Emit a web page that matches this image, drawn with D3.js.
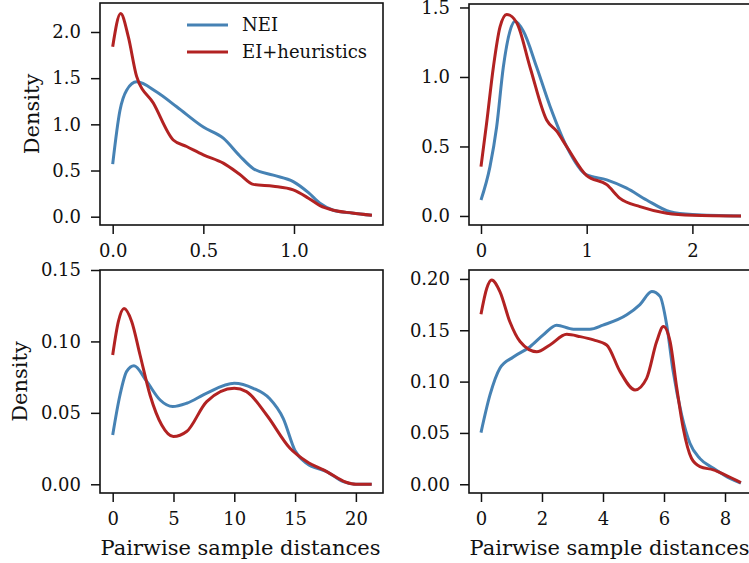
<!DOCTYPE html>
<html>
<head>
<meta charset="utf-8">
<script src="https://cdn.jsdelivr.net/npm/d3@7"></script>
<style>
  body { margin: 0; background: #fff; }
  svg { display: block; font-family: "DejaVu Serif", serif; }
  .tick text { font-family: "DejaVu Serif", serif; font-size: 18px; fill: #111; }
  .tick line { stroke: #111; stroke-width: 1.5; }
</style>
</head>
<body>
<svg width="749" height="563"></svg>
<script>
// series, as [distance, density] pairs
var neiTopLeft = [[0,0.57],[0.04,1.15],[0.077,1.37],[0.132,1.46],[0.243,1.35],[0.353,1.19],[0.5,0.97],[0.61,0.85],[0.7,0.66],[0.776,0.52],[0.886,0.45],[0.996,0.38],[1.08,0.26],[1.143,0.145],[1.217,0.07],[1.32,0.04],[1.43,0.015]];
var eiTopLeft = [[0,1.84],[0.044,2.2],[0.086,1.95],[0.132,1.52],[0.224,1.23],[0.334,0.83],[0.408,0.76],[0.5,0.67],[0.61,0.58],[0.7,0.46],[0.776,0.35],[0.886,0.33],[0.996,0.29],[1.08,0.2],[1.143,0.12],[1.217,0.07],[1.32,0.04],[1.43,0.015]];

var neiTopRight = [[0,0.115],[0.085,0.355],[0.148,0.64],[0.211,1.07],[0.274,1.33],[0.322,1.4],[0.4,1.33],[0.527,1.07],[0.653,0.79],[0.81,0.5],[1.0,0.295],[1.19,0.26],[1.378,0.2],[1.567,0.115],[1.79,0.03],[2.0,0.01],[2.46,0]];
var eiTopRight = [[0,0.355],[0.053,0.667],[0.117,1.07],[0.18,1.36],[0.243,1.45],[0.338,1.39],[0.464,1.07],[0.621,0.69],[0.716,0.61],[0.81,0.5],[1.0,0.29],[1.19,0.225],[1.315,0.127],[1.504,0.067],[1.757,0.02],[2.0,0.005],[2.46,0]];

var neiBottomLeft = [[0,0.0345],[0.6,0.0625],[1.15,0.079],[1.75,0.083],[2.8,0.072],[3.9,0.059],[4.93,0.0544],[6.08,0.0567],[7.7,0.0637],[10,0.0707],[11.56,0.0672],[12.9,0.06],[14.03,0.046],[15,0.0235],[15.95,0.0147],[17.6,0.0089],[18.96,0.0019],[20,0],[21.3,0]];
var eiBottomLeft = [[0,0.0905],[0.47,0.114],[0.93,0.123],[1.56,0.114],[2.25,0.0905],[3.07,0.0625],[4.03,0.0415],[4.99,0.0334],[6.08,0.0369],[7.73,0.0579],[10,0.0672],[11,0.0649],[12.66,0.0485],[14.58,0.0252],[15.95,0.0159],[17.6,0.0089],[19.2,0.0014],[20,0],[21.3,0]];

var neiBottomRight = [[0,0.0503],[0.295,0.087],[0.62,0.113],[1.06,0.124],[1.61,0.134],[2.04,0.1455],[2.48,0.155],[3.03,0.151],[3.57,0.151],[4,0.155],[4.78,0.165],[5.21,0.175],[5.6,0.1877],[5.87,0.183],[6.09,0.155],[6.3,0.11],[6.58,0.0675],[6.85,0.04],[7.18,0.025],[7.62,0.0156],[8,0.0084],[8.52,0.001]];
var eiBottomRight = [[0,0.1656],[0.19,0.191],[0.35,0.199],[0.62,0.1877],[0.95,0.158],[1.28,0.139],[1.83,0.129],[2.26,0.1357],[2.81,0.146],[3.25,0.1438],[3.69,0.1406],[4.12,0.1357],[4.56,0.1097],[5.05,0.0919],[5.43,0.1032],[5.76,0.139],[5.98,0.1536],[6.2,0.139],[6.42,0.0935],[6.63,0.0545],[6.9,0.0253],[7.18,0.0172],[7.62,0.014],[8,0.0091],[8.52,0.0016]];

// tick labels
var xTicksTopLeft = [0, 0.5, 1.0];
var yTicksTopLeft = [0, 0.5, 1.0, 1.5, 2.0];
var xTicksTopRight = [0, 1, 2];
var yTicksTopRight = [0, 0.5, 1.0, 1.5];
var xTicksBottomLeft = [0, 5, 10, 15, 20];
var yTicksBottomLeft = [0, 0.05, 0.10, 0.15];
var xTicksBottomRight = [0, 2, 4, 6, 8];
var yTicksBottomRight = [0, 0.05, 0.10, 0.15, 0.20];

var seriesNames = ["NEI", "EI+heuristics"];
var colors = ["#4682b4", "#b22222"];

var svg = d3.select("svg");

var panels = [
  {left: 100, top: 3, w: 283, h: 222, xd: [-0.07, 1.491], yd: [-0.09, 2.314],
   xt: xTicksTopLeft, yt: yTicksTopLeft, xf: ".1f", yf: ".1f",
   nei: neiTopLeft, ei: eiTopLeft, ylabel: "Density", ylx: 32, legend: true},
  {left: 469, top: 4, w: 283, h: 221, xd: [-0.1135, 2.564], yd: [-0.065, 1.525],
   xt: xTicksTopRight, yt: yTicksTopRight, xf: "d", yf: ".1f",
   nei: neiTopRight, ei: eiTopRight},
  {left: 100, top: 270, w: 283, h: 223, xd: [-1.044, 22.23], yd: [-0.0061, 0.150],
   xt: xTicksBottomLeft, yt: yTicksBottomLeft, xf: "d", yf: ".2f",
   nei: neiBottomLeft, ei: eiBottomLeft, ylabel: "Density", ylx: 20, xlabel: true},
  {left: 469, top: 270, w: 283, h: 223, xd: [-0.393, 8.885], yd: [-0.0085, 0.2087],
   xt: xTicksBottomRight, yt: yTicksBottomRight, xf: "d", yf: ".2f",
   nei: neiBottomRight, ei: eiBottomRight, xlabel: true}
];

panels.forEach(function(p) {
  var x = d3.scaleLinear().domain(p.xd).range([0, p.w]);
  var y = d3.scaleLinear().domain(p.yd).range([p.h, 0]);
  var g = svg.append("g").attr("transform", "translate(" + p.left + "," + p.top + ")");

  var line = d3.line()
    .x(function(d) { return x(d[0]); })
    .y(function(d) { return y(d[1]); })
    .curve(d3.curveMonotoneX);

  [p.nei, p.ei].forEach(function(s, i) {
    g.append("path")
      .datum(s)
      .attr("fill", "none")
      .attr("stroke", colors[i])
      .attr("stroke-width", 3)
      .attr("d", line);
  });

  var xa = g.append("g")
    .attr("transform", "translate(0," + p.h + ")")
    .call(d3.axisBottom(x).tickValues(p.xt).tickFormat(d3.format(p.xf)).tickSize(9).tickPadding(10));
  xa.select(".domain").remove();

  var ya = g.append("g")
    .call(d3.axisLeft(y).tickValues(p.yt).tickFormat(d3.format(p.yf)).tickSize(9).tickPadding(10));
  ya.select(".domain").remove();

  g.append("rect")
    .attr("width", p.w).attr("height", p.h)
    .attr("fill", "none")
    .attr("stroke", "#111")
    .attr("stroke-width", 1.6);

  if (p.ylabel) {
    svg.append("text")
      .attr("transform", "translate(" + p.ylx + "," + (p.top + p.h / 2) + ") rotate(-90)")
      .attr("text-anchor", "middle")
      .attr("dy", "0.35em")
      .style("font-size", "21px")
      .attr("fill", "#111")
      .text(p.ylabel);
  }
  if (p.xlabel) {
    svg.append("text")
      .attr("x", p.left + p.w / 2 - 1)
      .attr("y", 555)
      .attr("text-anchor", "middle")
      .style("font-size", "21px")
      .attr("fill", "#111")
      .text("Pairwise sample distances");
  }
  if (p.legend) {
    var lg = g.append("g").attr("transform", "translate(87,22)");
    seriesNames.forEach(function(name, i) {
      var row = lg.append("g").attr("transform", "translate(0," + (i * 27) + ")");
      row.append("line")
        .attr("x1", 0).attr("x2", 41)
        .attr("stroke", colors[i]).attr("stroke-width", 3);
      row.append("text")
        .attr("x", 55).attr("dy", "0.35em")
        .style("font-size", "18px")
        .attr("fill", "#111")
        .text(name);
    });
  }
});
</script>
</body>
</html>
